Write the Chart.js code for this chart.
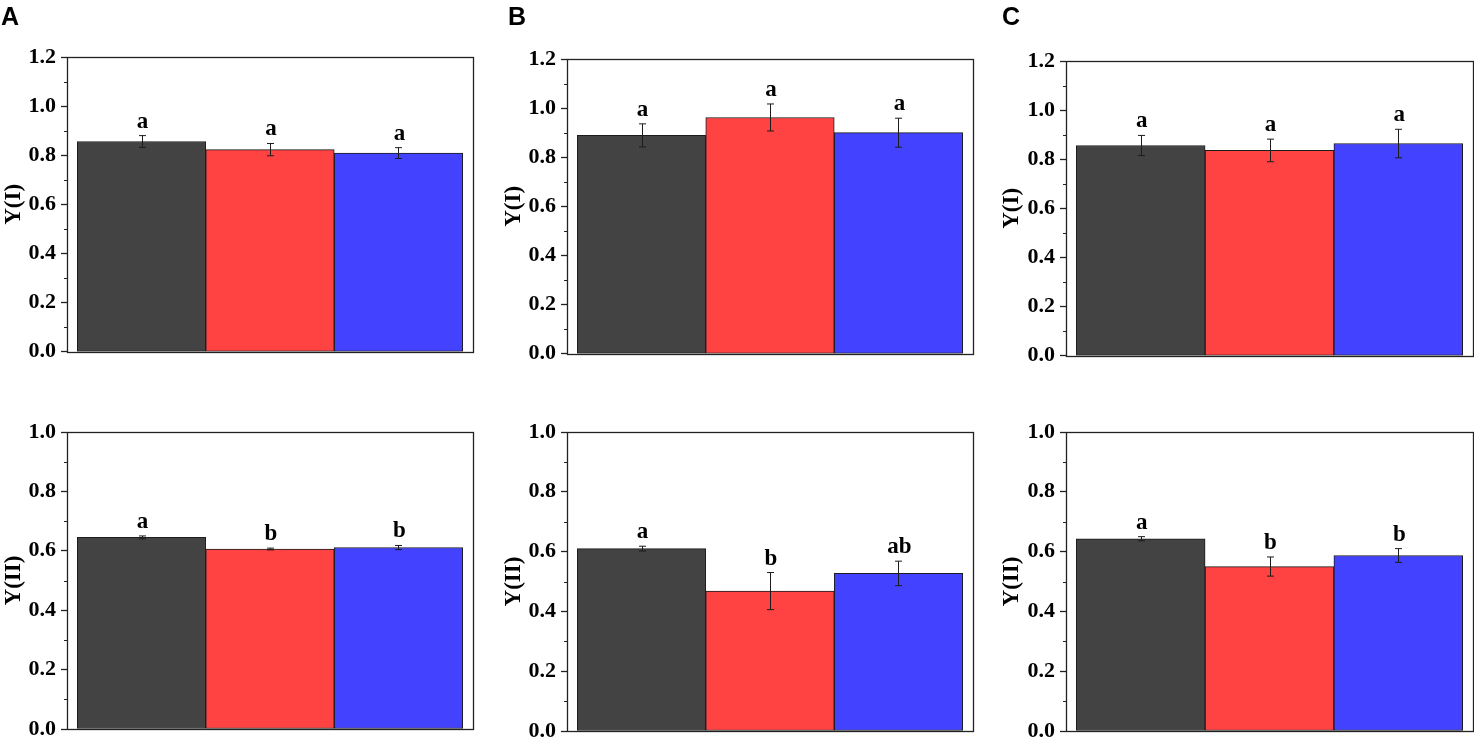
<!DOCTYPE html>
<html>
<head>
<meta charset="utf-8">
<script src="https://cdn.jsdelivr.net/npm/chart.js@4.4.0/dist/chart.umd.min.js"></script>
<style>
  html, body { margin: 0; padding: 0; background: #fff; overflow: hidden; }
  body { width: 1474px; height: 739px; position: relative; }
  .cell { position: absolute; }
</style>
</head>
<body>
<canvas class="cell" id="cA1"></canvas>
<canvas class="cell" id="cB1"></canvas>
<canvas class="cell" id="cC1"></canvas>
<canvas class="cell" id="cA2"></canvas>
<canvas class="cell" id="cB2"></canvas>
<canvas class="cell" id="cC2"></canvas>
<script>
// colours of the three treatments (left to right)
const barColors = ['#434343', '#ff4343', '#4343ff'];

// tick labels
const yITicks = [0.0, 0.2, 0.4, 0.6, 0.8, 1.0, 1.2];
const yIITicks = [0.0, 0.2, 0.4, 0.6, 0.8, 1.0];

// Y(I) - top row
const yIMeanA = [0.856, 0.823, 0.809];
const yIErrA = [0.024, 0.025, 0.022];
const yILetterA = ['a', 'a', 'a'];

const yIMeanB = [0.889, 0.962, 0.900];
const yIErrB = [0.047, 0.055, 0.059];
const yILetterB = ['a', 'a', 'a'];

const yIMeanC = [0.856, 0.836, 0.864];
const yIErrC = [0.041, 0.046, 0.058];
const yILetterC = ['a', 'a', 'a'];

// Y(II) - bottom row
const yIIMeanA = [0.645, 0.606, 0.611];
const yIIErrA = [0.005, 0.003, 0.007];
const yIILetterA = ['a', 'b', 'b'];

const yIIMeanB = [0.610, 0.468, 0.527];
const yIIErrB = [0.008, 0.062, 0.041];
const yIILetterB = ['a', 'b', 'ab'];

const yIIMeanC = [0.643, 0.550, 0.587];
const yIIErrC = [0.007, 0.032, 0.023];
const yIILetterC = ['a', 'b', 'b'];

const serif = '"Liberation Serif", "Times New Roman", Times, serif';
const ink = '#1c1c1c';

const cells = [
  { id: 'cA1', left: 0,   top: 0,   width: 480, height: 370, pad: { top: 57, right: 7, bottom: 14, left: 0 }, yw: 67, tag: 'A', tagX: 1,
    title: 'Y(I)', ticks: yITicks, means: yIMeanA, errs: yIErrA, letters: yILetterA },
  { id: 'cB1', left: 500, top: 0,   width: 480, height: 372, pad: { top: 59, right: 7, bottom: 14, left: 0 }, yw: 67, tag: 'B', tagX: 8,
    title: 'Y(I)', ticks: yITicks, means: yIMeanB, errs: yIErrB, letters: yILetterB },
  { id: 'cC1', left: 998, top: 0,   width: 476, height: 374, pad: { top: 61, right: 1, bottom: 14, left: 0 }, yw: 68, tag: 'C', tagX: 4,
    title: 'Y(I)', ticks: yITicks, means: yIMeanC, errs: yIErrC, letters: yILetterC },
  { id: 'cA2', left: 0,   top: 370, width: 480, height: 380, pad: { top: 62, right: 7, bottom: 21, left: 0 }, yw: 67, tag: '',
    title: 'Y(II)', ticks: yIITicks, means: yIIMeanA, errs: yIIErrA, letters: yIILetterA },
  { id: 'cB2', left: 500, top: 370, width: 480, height: 380, pad: { top: 62, right: 7, bottom: 19, left: 0 }, yw: 67, tag: '',
    title: 'Y(II)', ticks: yIITicks, means: yIIMeanB, errs: yIIErrB, letters: yIILetterB },
  { id: 'cC2', left: 998, top: 370, width: 476, height: 380, pad: { top: 62, right: 1, bottom: 19, left: 0 }, yw: 68, tag: '',
    title: 'Y(II)', ticks: yIITicks, means: yIIMeanC, errs: yIIErrC, letters: yIILetterC }
];

// error bars, significance letters, plot frame, minor ticks and panel tag
const panelDecor = {
  id: 'panelDecor',
  afterDatasetsDraw(chart, args, opts) {
    const { ctx, chartArea: a, scales: { y } } = chart;
    const meta = chart.getDatasetMeta(0);
    ctx.save();

    ctx.strokeStyle = ink;
    ctx.lineWidth = 1;
    meta.data.forEach((bar, i) => {
      const v = opts.means[i], e = opts.errs[i];
      const px = Math.round(bar.x) + 0.5;
      const hi = y.getPixelForValue(v + e);
      const lo = y.getPixelForValue(v - e);
      ctx.beginPath();
      ctx.moveTo(px, hi); ctx.lineTo(px, lo);
      ctx.moveTo(px - 3.5, hi); ctx.lineTo(px + 3.5, hi);
      ctx.moveTo(px - 3.5, lo); ctx.lineTo(px + 3.5, lo);
      ctx.stroke();

      ctx.fillStyle = '#000';
      ctx.font = 'bold 23px ' + serif;
      ctx.textAlign = 'center';
      ctx.textBaseline = 'alphabetic';
      ctx.fillText(opts.letters[i], bar.x + 1, hi - 8);
    });

    // frame
    ctx.strokeStyle = '#222';
    ctx.lineWidth = 1.3;
    ctx.strokeRect(Math.round(a.left) + 0.5, Math.round(a.top) + 0.5,
      Math.round(a.right - a.left), Math.round(a.bottom - a.top));

    // minor ticks halfway between labelled ticks
    const t = opts.ticks;
    ctx.lineWidth = 1.2;
    ctx.beginPath();
    for (let i = 0; i < t.length - 1; i++) {
      const py = Math.round(y.getPixelForValue((t[i] + t[i + 1]) / 2)) + 0.5;
      ctx.moveTo(a.left - 3, py);
      ctx.lineTo(a.left, py);
    }
    ctx.stroke();

    if (opts.tag) {
      ctx.fillStyle = '#000';
      ctx.font = 'bold 25px "Liberation Sans", Arial, sans-serif';
      ctx.textAlign = 'left';
      ctx.fillText(opts.tag, opts.tagX, 25);
    }
    ctx.restore();
  }
};

cells.forEach(cell => {
  const canvas = document.getElementById(cell.id);
  canvas.width = cell.width;
  canvas.height = cell.height;
  canvas.style.left = cell.left + 'px';
  canvas.style.top = cell.top + 'px';
  canvas.style.width = cell.width + 'px';
  canvas.style.height = cell.height + 'px';

  const ticks = cell.ticks;
  const positions = cell.means.map((v, i) => i + 1);

  new Chart(canvas, {
    type: 'bar',
    data: {
      datasets: [{
        data: cell.means.map((v, i) => ({ x: positions[i], y: v })),
        backgroundColor: barColors,
        borderColor: ink,
        borderWidth: 1,
        borderSkipped: false,
        barPercentage: 1,
        categoryPercentage: 1
      }]
    },
    options: {
      responsive: false,
      animation: false,
      layout: { padding: cell.pad },
      plugins: {
        legend: { display: false },
        tooltip: { enabled: false },
        panelDecor: {
          means: cell.means, errs: cell.errs, letters: cell.letters,
          ticks: ticks, tag: cell.tag, tagX: cell.tagX
        }
      },
      scales: {
        x: {
          type: 'linear',
          min: 0.42,
          max: 3.58,
          offset: false,
          display: false,
          afterBuildTicks: s => { s.ticks = positions.map(p => ({ value: p })); }
        },
        y: {
          min: ticks[0],
          max: ticks[ticks.length - 1],
          afterFit: s => { s.width = cell.yw; },
          afterBuildTicks: s => { s.ticks = ticks.map(v => ({ value: v })); },
          grid: {
            drawOnChartArea: false,
            drawTicks: true,
            tickLength: 6,
            tickWidth: 1.3,
            tickColor: '#222'
          },
          border: { display: false },
          ticks: {
            padding: 5,
            color: '#000',
            font: { family: serif, weight: 'bold', size: 22 },
            callback: v => Number(v).toFixed(1)
          },
          title: {
            display: true,
            text: cell.title,
            color: '#000',
            padding: 0,
            font: { family: serif, weight: 'bold', size: 23 }
          }
        }
      }
    },
    plugins: [panelDecor]
  });
});
</script>
</body>
</html>
